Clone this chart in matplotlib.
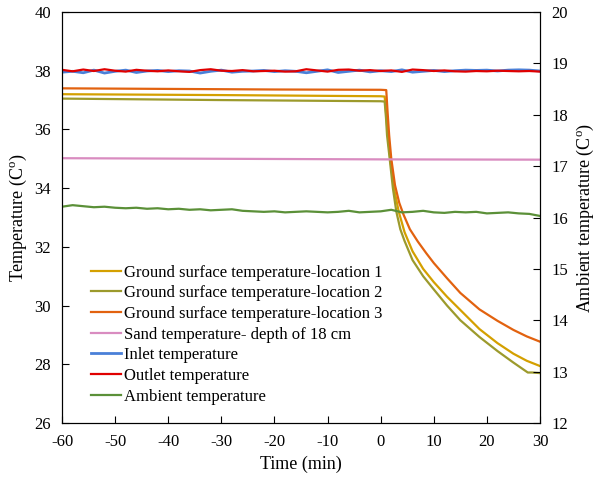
import numpy as np
from matplotlib import pyplot as plt

plt.rcParams['font.family'] = ['Liberation Serif', 'DejaVu Serif']
plt.rcParams['mathtext.fontset'] = 'custom'
plt.rcParams['mathtext.rm'] = 'Liberation Serif'
plt.rcParams['mathtext.it'] = 'Liberation Serif:italic'
plt.rcParams['axes.unicode_minus'] = False

# ground surface temperatures (left axis)
t_loc1 = [-60, -30, 0, 0.75, 1.0, 1.3, 1.8, 2.5, 3.4, 4.5, 6, 8, 10, 12.5, 15, 18.6, 22, 25, 27.5, 30]
T_loc1 = [37.20, 37.17, 37.13, 37.12, 36.6, 35.9, 35.0, 34.0, 33.2, 32.5, 31.85, 31.25, 30.8, 30.3,
          29.85, 29.2, 28.72, 28.36, 28.12, 27.94]
t_loc2 = [-60, -30, 0, 0.75, 1.0, 1.2, 1.7, 2.3, 2.95, 3.7, 4.5, 6, 8, 10, 12.5, 15, 18.6, 22, 24.9,
          27.7, 28.5, 30]
T_loc2 = [37.05, 37.0, 36.96, 36.95, 36.4, 35.8, 35.0, 34.0, 33.2, 32.6, 32.2, 31.55, 31.0, 30.55,
          30.0, 29.5, 28.93, 28.45, 28.07, 27.72, 27.72, 27.70]
t_loc3 = [-60, -40, -20, 0, 1.05, 1.3, 1.6, 2.0, 2.7, 3.5, 4.3, 5.5, 7.0, 8.6, 10, 12.5, 15, 18.6,
          22, 25, 27.5, 30]
T_loc3 = [37.40, 37.38, 37.36, 37.35, 37.34, 36.6, 35.8, 35.0, 34.1, 33.5, 33.1, 32.6, 32.18, 31.78,
          31.45, 30.93, 30.43, 29.87, 29.48, 29.17, 28.95, 28.77]

t_sand = [-60, -30, 0, 30]
T_sand = [35.02, 35.00, 34.98, 34.97]

# inlet / outlet / ambient, sampled every 2 min from -60 to 30
t_flow = np.arange(-60, 31, 2)
T_inlet = [37.95, 37.98, 37.93, 38.02, 37.92, 37.98, 38.02, 37.94, 37.99, 38.01,
           37.97, 38.00, 37.99, 37.92, 37.98, 38.02, 37.95, 37.98, 37.99, 38.01,
           37.97, 38.00, 37.98, 37.93, 37.98, 38.03, 37.94, 37.98, 38.02, 37.96,
           38.00, 37.97, 38.03, 37.95, 37.98, 38.01, 37.97, 38.00, 38.02, 38.01,
           38.02, 37.99, 38.02, 38.03, 38.02, 37.99]
T_outlet = [38.03, 37.98, 38.04, 37.99, 38.05, 38.00, 37.97, 38.03, 38.00, 37.98,
            38.01, 37.98, 37.96, 38.02, 38.05, 38.00, 37.99, 38.02, 37.98, 37.99,
            38.00, 37.97, 37.98, 38.05, 38.01, 37.97, 38.03, 38.04, 38.00, 38.02,
            37.99, 38.01, 37.96, 38.04, 38.02, 37.99, 38.01, 37.98, 37.97, 37.99,
            37.98, 38.00, 37.99, 37.98, 37.99, 37.97]
T_ambient = [16.21, 16.24, 16.22, 16.20, 16.21, 16.19, 16.18, 16.19, 16.17, 16.18,
             16.16, 16.17, 16.15, 16.16, 16.14, 16.15, 16.16, 16.13, 16.12, 16.11,
             16.12, 16.10, 16.11, 16.12, 16.11, 16.10, 16.11, 16.13, 16.10, 16.11,
             16.12, 16.15, 16.10, 16.11, 16.13, 16.10, 16.09, 16.11, 16.10, 16.11,
             16.08, 16.09, 16.10, 16.08, 16.07, 16.03]

fig = plt.figure(figsize=(5.98, 4.78), dpi=100)
ax = fig.add_axes([62 / 598, 55 / 478, 478 / 598, 411 / 478])
ax2 = ax.twinx()

lw = 1.6
l1, = ax.plot(t_loc1, T_loc1, color='#D4A000', lw=lw, label='Ground surface temperature-location 1')
l2, = ax.plot(t_loc2, T_loc2, color='#9C9A2C', lw=lw, label='Ground surface temperature-location 2')
l3, = ax.plot(t_loc3, T_loc3, color='#E2620F', lw=lw, label='Ground surface temperature-location 3')
l4, = ax.plot(t_sand, T_sand, color='#D98CC0', lw=lw, label='Sand temperature- depth of 18 cm')
l5, = ax.plot(t_flow, T_inlet, color='#4A80D8', lw=2.0, label='Inlet temperature')
l6, = ax.plot(t_flow, T_outlet, color='#E00000', lw=lw, label='Outlet temperature')
l7, = ax2.plot(t_flow, T_ambient, color='#5B9038', lw=lw, label='Ambient temperature')

ax.set_xlim(-60, 30)
ax.set_ylim(26, 40)
ax2.set_ylim(12, 20)
ax.set_xticks(np.arange(-60, 31, 10))
ax.set_yticks(np.arange(26, 41, 2))
ax2.set_yticks(np.arange(12, 21, 1))

for a in (ax, ax2):
    a.tick_params(direction='in', length=5, labelsize=12, width=0.8)
ax.tick_params(axis='x', pad=8)
ax.tick_params(axis='y', pad=8)
ax2.tick_params(axis='y', pad=8)

ax.set_xlabel('Time (min)', fontsize=13, labelpad=4)
ax.set_ylabel('Temperature (C$^{\\mathrm{o}}$)', fontsize=13, labelpad=4)
ax2.set_ylabel('Ambient temperature (C$^{\\mathrm{o}}$)', fontsize=13, labelpad=5)

ax.legend(handles=[l1, l2, l3, l4, l5, l6, l7], loc='center left',
          bbox_to_anchor=(0.06, 0.215), frameon=False, fontsize=12,
          handlelength=1.8, handletextpad=0.2, labelspacing=0.28,
          borderpad=0, borderaxespad=0)

fig.savefig('out.png', dpi=100)
